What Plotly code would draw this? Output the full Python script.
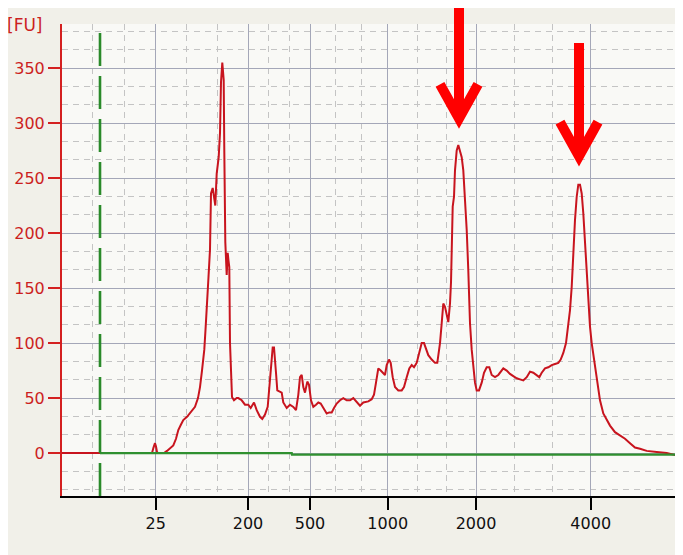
import plotly.graph_objects as go

# migration time (arbitrary units) and fluorescence [FU]
time = [6.2, 10.0, 15.0, 15.2, 15.35, 15.5, 15.6, 15.7, 15.8, 16.4,
        16.7, 17.0, 17.33, 17.6, 17.83, 18.1, 18.33, 18.7, 19.0, 19.3,
        19.5, 19.8, 20.0, 20.2, 20.43, 20.55, 20.67, 20.85, 21.0, 21.1,
        21.27, 21.4, 21.53, 21.67, 21.87, 22.0, 22.1, 22.23, 22.37, 22.43,
        22.53, 22.67, 22.77, 22.85, 22.93, 23.0, 23.2, 23.4, 23.67, 23.83,
        24.17, 24.5, 24.83, 25.07, 25.4, 25.67, 26.0, 26.23, 26.5, 26.77,
        27.0, 27.17, 27.27, 27.4, 27.47, 27.6, 27.73, 27.93, 28.17, 28.33,
        28.67, 29.0, 29.33, 29.6, 29.83, 30.0, 30.17, 30.33, 30.5, 30.73,
        30.9, 31.1, 31.33, 31.6, 31.83, 32.07, 32.33, 32.67, 32.93, 33.17,
        33.4, 33.67, 34.0, 34.33, 34.67, 35.0, 35.33, 35.67, 36.0, 36.33,
        36.83, 37.17, 37.4, 37.6, 37.83, 38.07, 38.27, 38.5, 38.67, 38.9,
        39.07, 39.27, 39.5, 39.83, 40.17, 40.4, 40.67, 40.93, 41.17, 41.4,
        41.67, 41.93, 42.17, 42.4, 42.6, 42.83, 43.17, 43.5, 43.73, 44.0,
        44.17, 44.33, 44.5, 44.67, 44.83, 45.0, 45.1, 45.27, 45.4, 45.5,
        45.67, 45.83, 46.0, 46.17, 46.33, 46.5, 46.67, 46.83, 47.0, 47.17,
        47.33, 47.5, 47.67, 47.9, 48.17, 48.4, 48.67, 48.93, 49.17, 49.5,
        49.83, 50.0, 50.33, 50.67, 51.0, 51.33, 51.67, 52.0, 52.33, 52.67,
        53.0, 53.33, 53.67, 53.93, 54.17, 54.5, 54.83, 55.17, 55.5, 55.83,
        56.07, 56.33, 56.6, 56.83, 57.0, 57.17, 57.33, 57.5, 57.67, 57.83,
        58.0, 58.17, 58.33, 58.5, 58.67, 58.83, 59.0, 59.17, 59.33, 59.5,
        59.73, 60.0, 60.33, 60.67, 61.0, 61.5, 62.0, 62.5, 63.0, 63.5,
        64.0, 64.67, 65.67, 66.67, 67.67, 68.3]
fu = [0, 0, 0, 0, 5, 9, 6, 1, 0, 0,
      2, 4, 7, 13, 21, 26, 30, 33, 36, 39,
      42, 50, 60, 75, 94, 112, 136, 160, 185, 236,
      241, 233, 225, 254, 269, 291, 337, 355, 339, 275,
      192, 162, 182, 175, 169, 100, 51, 48, 50, 50,
      48, 44, 44, 41, 46, 39, 33, 31, 35, 42,
      66, 87, 96, 96, 85, 73, 57, 56, 55, 46,
      41, 44, 42, 39, 53, 69, 71, 60, 55, 65,
      62, 48, 42, 44, 46, 45, 41, 36, 37, 37,
      41, 45, 48, 50, 48, 48, 50, 46, 43, 46,
      47, 49, 53, 64, 77, 75, 73, 71, 80, 85,
      82, 69, 60, 57, 57, 60, 69, 77, 80, 78,
      82, 91, 100, 100, 94, 89, 85, 82, 82, 100,
      118, 136, 133, 124, 119, 136, 155, 224, 233, 257,
      275, 280, 275, 269, 257, 233, 203, 166, 118, 94,
      82, 64, 57, 57, 64, 73, 78, 78, 71, 69,
      71, 73, 77, 75, 72, 70, 68, 67, 66, 69,
      74, 73, 71, 69, 73, 77, 78, 80, 81, 82,
      85, 91, 100, 115, 130, 151, 182, 212, 233, 244,
      244, 236, 218, 191, 166, 139, 115, 100, 90, 78,
      64, 48, 36, 30, 25, 19, 16, 13, 9, 5,
      4, 2, 1, 0, -2, -2]

# baseline
base_time = [10.0, 29.17, 29.2, 68.3]
base_fu = [0, 0, -1.4, -1.4]

# size axis
tick_pos = [15.57, 24.8, 31.0, 38.77, 47.6, 59.07]
tick_bp = ["25", "200", "500", "1000", "2000", "4000"]
minor_pos = [9.2, 12.4, 18.65, 21.72, 26.87, 28.93, 33.59, 36.18,
             41.71, 44.66, 51.42, 55.25]

marker_time = 10.0
arrow_peaks = [45.9, 57.9]

RED = "#cc1f1f"
fig = go.Figure()
fig.add_trace(go.Scatter(x=time, y=fu, mode="lines",
                         line=dict(color="#c8141e", width=2)))
fig.add_trace(go.Scatter(x=base_time, y=base_fu, mode="lines",
                         line=dict(color="#2f902f", width=2.4)))

fig.add_vline(x=marker_time, line=dict(color="#2a8a2a", width=2.6, dash="33px,10px"))

# arrows
for xp, top, tip in [(arrow_peaks[0], 1.04, 0.80), (arrow_peaks[1], 0.96, 0.72)]:
    fig.add_shape(type="line", xref="x", yref="paper", x0=xp, x1=xp, y0=top, y1=tip + 0.01,
                  line=dict(color="#ff0000", width=10))
    fig.add_shape(type="path", xref="x", yref="paper",
                  path=f"M {xp-1.9} {tip+0.072} L {xp} {tip} L {xp+1.9} {tip+0.072}",
                  line=dict(color="#ff0000", width=10))

fig.add_annotation(text="[FU]", xref="paper", yref="paper", x=-0.027, y=0.998,
                   xanchor="right", yanchor="middle", showarrow=False,
                   font=dict(color=RED, size=17, family="DejaVu Sans"))

fig.update_xaxes(range=[6.2, 68.3], tickmode="array", tickvals=tick_pos, ticktext=tick_bp,
                 showline=True, linecolor="black", linewidth=2,
                 ticks="outside", ticklen=12, tickwidth=2, tickcolor="black",
                 ticklabelstandoff=0,
                 tickfont=dict(color="#111111", size=16, family="DejaVu Sans"),
                 showgrid=True, gridcolor="#a4a7b8", gridwidth=1.3, zeroline=False,
                 minor=dict(tickmode="array", tickvals=minor_pos, showgrid=True,
                            gridcolor="#c4c4c4", griddash="6px,5px", gridwidth=1))
fig.update_yaxes(range=[-39, 390], tick0=0, dtick=50,
                 showline=True, linecolor="#d42020", linewidth=2,
                 ticks="outside", ticklen=12, tickwidth=2, tickcolor="#d42020",
                 ticklabelstandoff=0,
                 tickfont=dict(color=RED, size=16, family="DejaVu Sans"),
                 showgrid=True, gridcolor="#a4a7b8", gridwidth=1.3, zeroline=False,
                 minor=dict(tick0=0, dtick=50 / 3, showgrid=True,
                            gridcolor="#c4c4c4", griddash="6px,5px", gridwidth=1))

fig.update_layout(width=675, height=547, showlegend=False,
                  margin=dict(l=54, r=0, t=16, b=59, autoexpand=False),
                  paper_bgcolor="#f1f0e9", plot_bgcolor="#f9f9f6")
fig.write_html("out.html")
